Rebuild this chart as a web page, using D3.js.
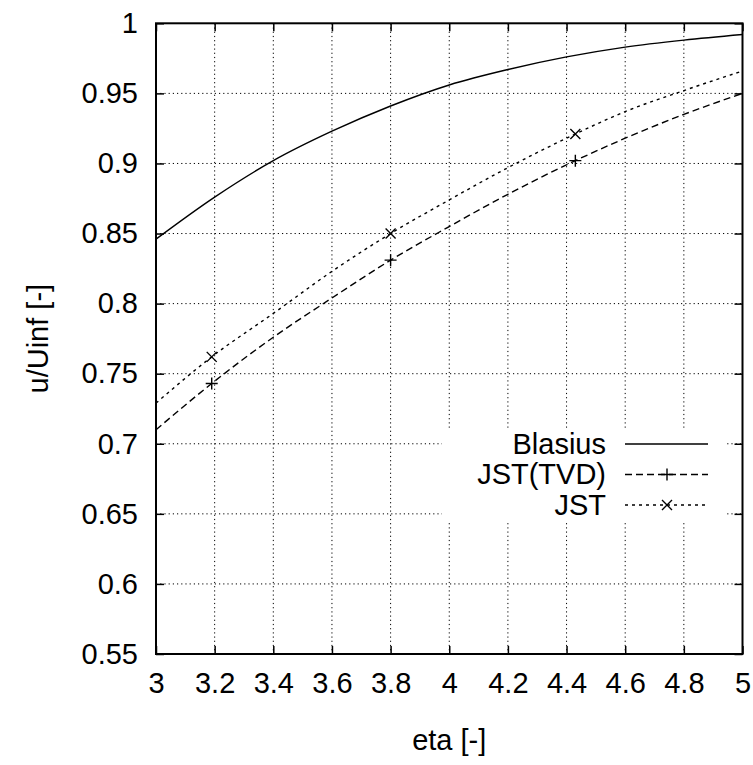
<!DOCTYPE html>
<html>
<head>
<meta charset="utf-8">
<script src="https://cdn.jsdelivr.net/npm/d3@7"></script>
<style>
  body { margin: 0; background: #fff; }
  text { font-family: "Liberation Sans", Arial, sans-serif; fill: #000; }
</style>
</head>
<body>
<div id="chart"></div>
<script>
// Data
let etaBlasius = [3.0, 3.2, 3.4, 3.6, 3.8, 4.0, 4.2, 4.4, 4.6, 4.8, 5.0];
let uBlasius = [0.846, 0.876, 0.902, 0.923, 0.941, 0.956, 0.967, 0.976, 0.983, 0.988, 0.992];

let etaNum = [3.0, 3.19, 3.4, 3.6, 3.8, 4.0, 4.2, 4.43, 4.6, 4.8, 5.0];
let uTVD = [0.710, 0.743, 0.776, 0.804, 0.831, 0.855, 0.878, 0.902, 0.918, 0.935, 0.950];
let uJST = [0.729, 0.762, 0.793, 0.823, 0.850, 0.874, 0.897, 0.921, 0.937, 0.952, 0.966];
let markerIdx = [1, 4, 7];

let xTicks = [3, 3.2, 3.4, 3.6, 3.8, 4, 4.2, 4.4, 4.6, 4.8, 5];
let yTicks = [0.55, 0.6, 0.65, 0.7, 0.75, 0.8, 0.85, 0.9, 0.95, 1];

let margin = { top: 23.3, right: 10.5, bottom: 111, left: 156 };
let svgWidth = 753, svgHeight = 765;
let chartWidth = svgWidth - margin.left - margin.right;
let chartHeight = svgHeight - margin.top - margin.bottom;
let fontSize = 29;

let svg = d3.select('#chart')
            .append('svg')
            .attr('width', svgWidth)
            .attr('height', svgHeight);

let chartGrp = svg.append('g')
            .attr('transform', `translate(${margin.left}, ${margin.top})`);

let xScale = d3.scaleLinear().domain([3, 5]).range([0, chartWidth]);
let yScale = d3.scaleLinear().domain([0.55, 1]).range([chartHeight, 0]);

// grid
chartGrp.append('g')
    .selectAll('line')
    .data(xTicks.slice(1, -1))
    .enter().append('line')
    .attr('x1', d => xScale(d)).attr('x2', d => xScale(d))
    .attr('y1', 0).attr('y2', chartHeight)
    .attr('stroke', '#000').attr('stroke-width', 1)
    .attr('stroke-dasharray', '1.2,3');

chartGrp.append('g')
    .selectAll('line')
    .data(yTicks.slice(1, -1))
    .enter().append('line')
    .attr('x1', 0).attr('x2', chartWidth)
    .attr('y1', d => yScale(d)).attr('y2', d => yScale(d))
    .attr('stroke', '#000').attr('stroke-width', 1)
    .attr('stroke-dasharray', '1.2,3');

// axes with mirrored inner ticks
let tickLen = 8;
let xAxisB = d3.axisBottom(xScale).tickValues(xTicks).tickSize(-tickLen).tickPadding(18)
                .tickFormat(d3.format('~g'));
let xAxisT = d3.axisTop(xScale).tickValues(xTicks).tickSize(-tickLen).tickFormat('');
let yAxisL = d3.axisLeft(yScale).tickValues(yTicks).tickSize(-tickLen).tickPadding(18)
                .tickFormat(d3.format('~g'));
let yAxisR = d3.axisRight(yScale).tickValues(yTicks).tickSize(-tickLen).tickFormat('');

function styleAxis(g) {
    g.select('.domain').remove();
    g.selectAll('.tick line').attr('stroke', '#000').attr('stroke-width', 1.5);
    g.selectAll('.tick text').attr('font-size', fontSize)
        .attr('font-family', '"Liberation Sans", Arial, sans-serif').attr('fill', '#000');
}

chartGrp.append('g').attr('transform', `translate(0, ${chartHeight})`).call(xAxisB).call(styleAxis);
chartGrp.append('g').call(xAxisT).call(styleAxis);
chartGrp.append('g').call(yAxisL).call(styleAxis);
chartGrp.append('g').attr('transform', `translate(${chartWidth}, 0)`).call(yAxisR).call(styleAxis);

// frame
chartGrp.append('rect')
    .attr('x', 0).attr('y', 0)
    .attr('width', chartWidth).attr('height', chartHeight)
    .attr('fill', 'none').attr('stroke', '#000').attr('stroke-width', 2);

// curves
let line = d3.line().x(d => xScale(d[0])).y(d => yScale(d[1])).curve(d3.curveMonotoneX);

let series = [
    { name: 'Blasius', eta: etaBlasius, u: uBlasius, dash: null, marker: null },
    { name: 'JST(TVD)', eta: etaNum, u: uTVD, dash: '7,4', marker: 'plus' },
    { name: 'JST', eta: etaNum, u: uJST, dash: '3,4', marker: 'cross' }
];

function markerPath(type, s) {
    if (type === 'plus') return `M${-s},0H${s}M0,${-s}V${s}`;
    return `M${-s},${-s}L${s},${s}M${-s},${s}L${s},${-s}`;
}

series.forEach(sr => {
    let pts = sr.eta.map((e, i) => [e, sr.u[i]]);
    chartGrp.append('path')
        .attr('d', line(pts))
        .attr('fill', 'none').attr('stroke', '#000').attr('stroke-width', 1.4)
        .attr('stroke-dasharray', sr.dash);
    if (sr.marker) {
        chartGrp.selectAll(null)
            .data(markerIdx.map(i => pts[i]))
            .enter().append('path')
            .attr('transform', d => `translate(${xScale(d[0])}, ${yScale(d[1])})`)
            .attr('d', markerPath(sr.marker, sr.marker === 'plus' ? 6 : 5))
            .attr('stroke', '#000').attr('stroke-width', 1.4).attr('fill', 'none');
    }
});

// legend with white box
let legX = 442 - margin.left, legY = 428 - margin.top;
chartGrp.append('rect')
    .attr('x', legX).attr('y', legY)
    .attr('width', 285).attr('height', 94)
    .attr('fill', '#fff');

series.forEach((sr, i) => {
    let yMid = legY + 16 + i * 30.5;
    chartGrp.append('text')
        .attr('x', 606 - margin.left).attr('y', yMid + 10)
        .attr('text-anchor', 'end').attr('font-size', fontSize)
        .text(sr.name);
    chartGrp.append('line')
        .attr('x1', 625 - margin.left).attr('x2', 708 - margin.left)
        .attr('y1', yMid).attr('y2', yMid)
        .attr('stroke', '#000').attr('stroke-width', 1.4)
        .attr('stroke-dasharray', sr.dash);
    if (sr.marker) {
        chartGrp.append('path')
            .attr('transform', `translate(${667 - margin.left}, ${yMid})`)
            .attr('d', markerPath(sr.marker, sr.marker === 'plus' ? 6 : 5))
            .attr('stroke', '#000').attr('stroke-width', 1.4).attr('fill', 'none');
    }
});

// axis titles
svg.append('text')
    .attr('x', margin.left + chartWidth / 2).attr('y', 750)
    .attr('text-anchor', 'middle').attr('font-size', fontSize)
    .text('eta [-]');

svg.append('text')
    .attr('transform', `translate(48, ${margin.top + chartHeight / 2}) rotate(-90)`)
    .attr('text-anchor', 'middle').attr('font-size', fontSize)
    .text('u/Uinf [-]');
</script>
</body>
</html>
